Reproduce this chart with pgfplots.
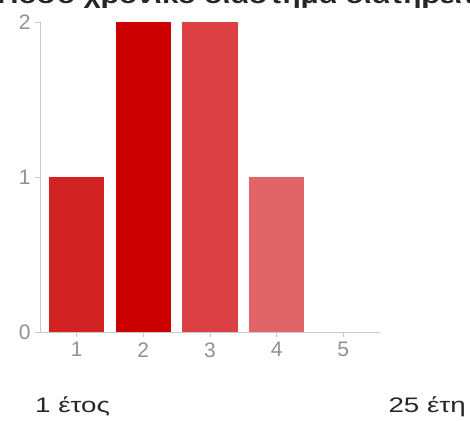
\documentclass[border=0pt]{standalone}
\usepackage{pgfplots}
\pgfplotsset{compat=1.18}
\usepackage{fontspec}
\setmainfont{Liberation Sans}
\definecolor{cA}{RGB}{211,34,34}
\definecolor{cB}{RGB}{204,0,0}
\definecolor{cC}{RGB}{221,64,68}
\definecolor{cD}{RGB}{224,100,104}
\definecolor{tickgray}{RGB}{145,145,145}
\definecolor{axgray}{RGB}{200,200,200}
\begin{document}
\begin{tikzpicture}[x=1pt,y=1pt]
\begin{scope}
\clip (0,0) rectangle (470,420);
\node[anchor=base west, font=\bfseries\fontsize{24}{28}\selectfont, text=black!85, inner sep=0pt] at (-3,416.5) {\scalebox{1.24}[1]{Πόσο χρονικό διάστημα διατηρείτε}};
\end{scope}
\begin{axis}[
  at={(40pt,88pt)}, anchor=south west,
  scale only axis, width=340pt, height=310pt,
  xmin=0.45, xmax=5.55, ymin=0, ymax=2,
  axis x line*=bottom, axis y line*=left,
  axis line style={axgray, line width=1pt},
  xtick={1,2,3,4,5}, ytick={0,1,2},
  tick align=outside, major tick length=5pt,
  tick style={axgray, line width=0.8pt},
  tick label style={font=\fontsize{21}{21}\selectfont, text=tickgray},
  xticklabel style={yshift=-2pt},
  yticklabel style={xshift=-1pt},
  /pgf/number format/assume math mode=true,
  ybar, bar width=0.83, bar shift=0pt,
  clip=false,
]
\addplot[fill=cA, draw=none] coordinates {(1,1)};
\addplot[fill=cB, draw=none] coordinates {(2,2)};
\addplot[fill=cC, draw=none] coordinates {(3,2)};
\addplot[fill=cD, draw=none] coordinates {(4,1)};
\end{axis}
\node[anchor=base west, font=\fontsize{21}{24}\selectfont, text=black!85, inner sep=0pt] at (35,8) {\scalebox{1.32}[1]{1 έτος}};
\node[anchor=base east, font=\fontsize{21}{24}\selectfont, text=black!85, inner sep=0pt] at (466,8) {\scalebox{1.32}[1]{25 έτη}};
\pgfresetboundingbox
\path[use as bounding box] (0,0) rectangle (470,420);
\end{tikzpicture}
\end{document}
